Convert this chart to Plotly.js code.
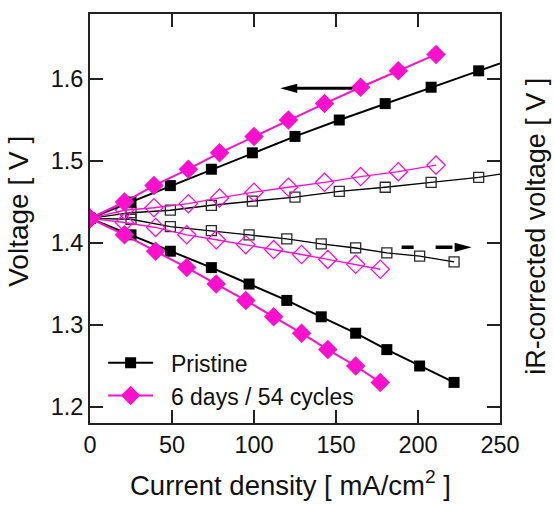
<!DOCTYPE html>
<html>
<head>
<meta charset="utf-8">
<script src="https://cdn.plot.ly/plotly-3.0.1.min.js"></script>
<style>html,body{margin:0;padding:0;background:#fff;}#chart{width:554px;height:505px;}</style>
</head>
<body>
<div id="chart"></div>
<script>
// ---- Data ----
// Pristine, measured voltage (filled squares)
const pristineUpX = [0, 25, 49, 74, 99, 125, 152, 180, 208, 237];
const pristineUpY = [1.43, 1.45, 1.47, 1.49, 1.51, 1.53, 1.55, 1.57, 1.59, 1.61];
const pristineLowX = [0, 25, 49, 74, 97, 120, 141, 162, 181, 201, 222];
const pristineLowY = [1.43, 1.41, 1.39, 1.37, 1.35, 1.33, 1.31, 1.29, 1.27, 1.25, 1.23];
// Pristine, iR-corrected (open squares)
const pristineUpIR = [1.43, 1.437, 1.440, 1.446, 1.451, 1.456, 1.463, 1.468, 1.474, 1.480];
const pristineLowIR = [1.43, 1.429, 1.420, 1.415, 1.410, 1.405, 1.399, 1.394, 1.388, 1.384, 1.377];
// Line extensions of the pristine upper branches to the frame edge
const extX = [250];
const pristineUpExt = [1.619];
const pristineUpIRExt = [1.484];

// 6 days / 54 cycles (diamonds)
const agedUpX = [0, 21, 39, 60, 79, 100, 121, 143, 165, 188, 211];
const agedUpY = [1.43, 1.45, 1.47, 1.49, 1.51, 1.53, 1.55, 1.57, 1.59, 1.61, 1.63];
const agedLowX = [0, 21, 40, 59, 77, 95, 112, 129, 145, 162, 177];
const agedLowY = [1.43, 1.41, 1.39, 1.37, 1.35, 1.33, 1.31, 1.29, 1.27, 1.25, 1.23];
const agedUpIR = [1.43, 1.440, 1.443, 1.448, 1.455, 1.462, 1.468, 1.474, 1.481, 1.487, 1.495];
const agedLowIR = [1.43, 1.425, 1.419, 1.410, 1.404, 1.398, 1.392, 1.386, 1.380, 1.374, 1.368];

const xTicks = [0, 50, 100, 150, 200, 250];
const yTicks = [1.2, 1.3, 1.4, 1.5, 1.6];
const seriesNames = ['Pristine', '6 days / 54 cycles'];

// arrow positions (data units)
const leftArrow = {tipX: 116, shaftX0: 122, tailX: 160, y: 1.5887};
const rightArrow = {dashX0: 190, dashX1: 221, tipX: 232.7, y: 1.3948};

const BLACK = '#000000';
const GRAY = '#2a2a2a';
const MAG = '#ff10cc';
const FONT = 'Liberation Sans, Arial, Helvetica, sans-serif';
const NB = '\u00a0\u00a0';

function openTrace(x, y, color, symbol, size, lc) {
  return {x: x, y: y, mode: 'lines+markers', showlegend: false,
    line: {color: lc, width: 1.4},
    marker: {symbol: symbol, size: size, color: color, line: {color: color, width: 1.3}}};
}
function filledTrace(x, y, color, symbol, size, name, show) {
  return {x: x, y: y, mode: 'lines+markers', name: NB + name, showlegend: show, legendgroup: name,
    line: {color: color, width: 2},
    marker: {symbol: symbol, size: size, color: color, line: {width: 0}}};
}

const traces = [
  {x: [pristineUpX[pristineUpX.length-1]].concat(extX), y: [pristineUpY[pristineUpY.length-1]].concat(pristineUpExt),
   mode: 'lines', showlegend: false, line: {color: BLACK, width: 2}},
  {x: [pristineUpX[pristineUpX.length-1]].concat(extX), y: [pristineUpIR[pristineUpIR.length-1]].concat(pristineUpIRExt),
   mode: 'lines', showlegend: false, line: {color: BLACK, width: 1.4}},
  openTrace(pristineUpX, pristineUpIR, GRAY, 'square-open', 10, BLACK),
  openTrace(pristineLowX, pristineLowIR, GRAY, 'square-open', 10, BLACK),
  openTrace(agedUpX, agedUpIR, MAG, 'diamond-open', 14, MAG),
  openTrace(agedLowX, agedLowIR, MAG, 'diamond-open', 14, MAG),
  filledTrace(pristineUpX, pristineUpY, BLACK, 'square', 11, seriesNames[0], true),
  filledTrace(pristineLowX, pristineLowY, BLACK, 'square', 11, seriesNames[0], false),
  filledTrace(agedUpX, agedUpY, MAG, 'diamond', 15, seriesNames[1], true),
  filledTrace(agedLowX, agedLowY, MAG, 'diamond', 15, seriesNames[1], false)
];

const axisCommon = {
  showgrid: false, zeroline: false, showline: true, linecolor: '#222', linewidth: 2,
  ticks: 'inside', ticklen: 13, tickwidth: 1.5, tickcolor: '#222', mirror: 'ticks',
  tickfont: {family: FONT, size: 23.5, color: '#111'}
};

const layout = {
  width: 554, height: 505,
  margin: {l: 90, r: 54, t: 14, b: 82},
  paper_bgcolor: '#fff', plot_bgcolor: '#fff',
  font: {family: FONT, color: '#111'},
  xaxis: Object.assign({}, axisCommon, {
    range: [0, 250], tickvals: xTicks, ticktext: xTicks.map(String),
    title: {text: ''}
  }),
  yaxis: Object.assign({}, axisCommon, {
    range: [1.1805, 1.6793], tickvals: yTicks, ticktext: yTicks.map(v => v.toFixed(1)),
    title: {text: ''}
  }),
  legend: {
    x: 0.032, y: 0.2, xanchor: 'left', yanchor: 'top',
    bgcolor: 'rgba(0,0,0,0)', borderwidth: 0,
    font: {family: FONT, size: 23, color: '#111'},
    itemwidth: 45, tracegroupgap: 0
  },
  shapes: [
    // solid arrow (left)
    {type: 'line', xref: 'x', yref: 'y', x0: leftArrow.shaftX0, x1: leftArrow.tailX,
     y0: leftArrow.y, y1: leftArrow.y, line: {color: BLACK, width: 3}},
    {type: 'path', xref: 'x', yref: 'y', xsizemode: 'pixel', ysizemode: 'pixel',
     xanchor: leftArrow.tipX, yanchor: leftArrow.y, path: 'M0,0L17,4.6L17,-4.6Z',
     fillcolor: BLACK, line: {width: 0}},
    // dashed arrow (right)
    {type: 'line', xref: 'x', yref: 'y', x0: rightArrow.dashX0, x1: rightArrow.dashX1,
     y0: rightArrow.y, y1: rightArrow.y, line: {color: BLACK, width: 3.5, dash: '12px,22px,17px,22px'}},
    {type: 'path', xref: 'x', yref: 'y', xsizemode: 'pixel', ysizemode: 'pixel',
     xanchor: rightArrow.tipX, yanchor: rightArrow.y, path: 'M0,0L-17,4.6L-17,-4.6Z',
     fillcolor: BLACK, line: {width: 0}}
  ],
  annotations: [
    {xref: 'paper', yref: 'paper', x: 0.49, y: -0.147, xanchor: 'center', yanchor: 'middle',
     text: 'Current density [ mA/cm<sup>2</sup> ]', showarrow: false,
     font: {family: FONT, size: 27.5, color: '#111'}},
    {xref: 'paper', yref: 'paper', x: -0.175, y: 0.517, xanchor: 'center', yanchor: 'middle',
     text: 'Voltage [ V ]', textangle: -90, showarrow: false,
     font: {family: FONT, size: 28, color: '#111'}},
    {xref: 'paper', yref: 'paper', x: 1.088, y: 0.48, xanchor: 'center', yanchor: 'middle',
     text: 'iR-corrected voltage [ V ]', textangle: -90, showarrow: false,
     font: {family: FONT, size: 27, color: '#111'}}
  ]
};

Plotly.newPlot('chart', traces, layout, {displayModeBar: false, staticPlot: true});
</script>
</body>
</html>
